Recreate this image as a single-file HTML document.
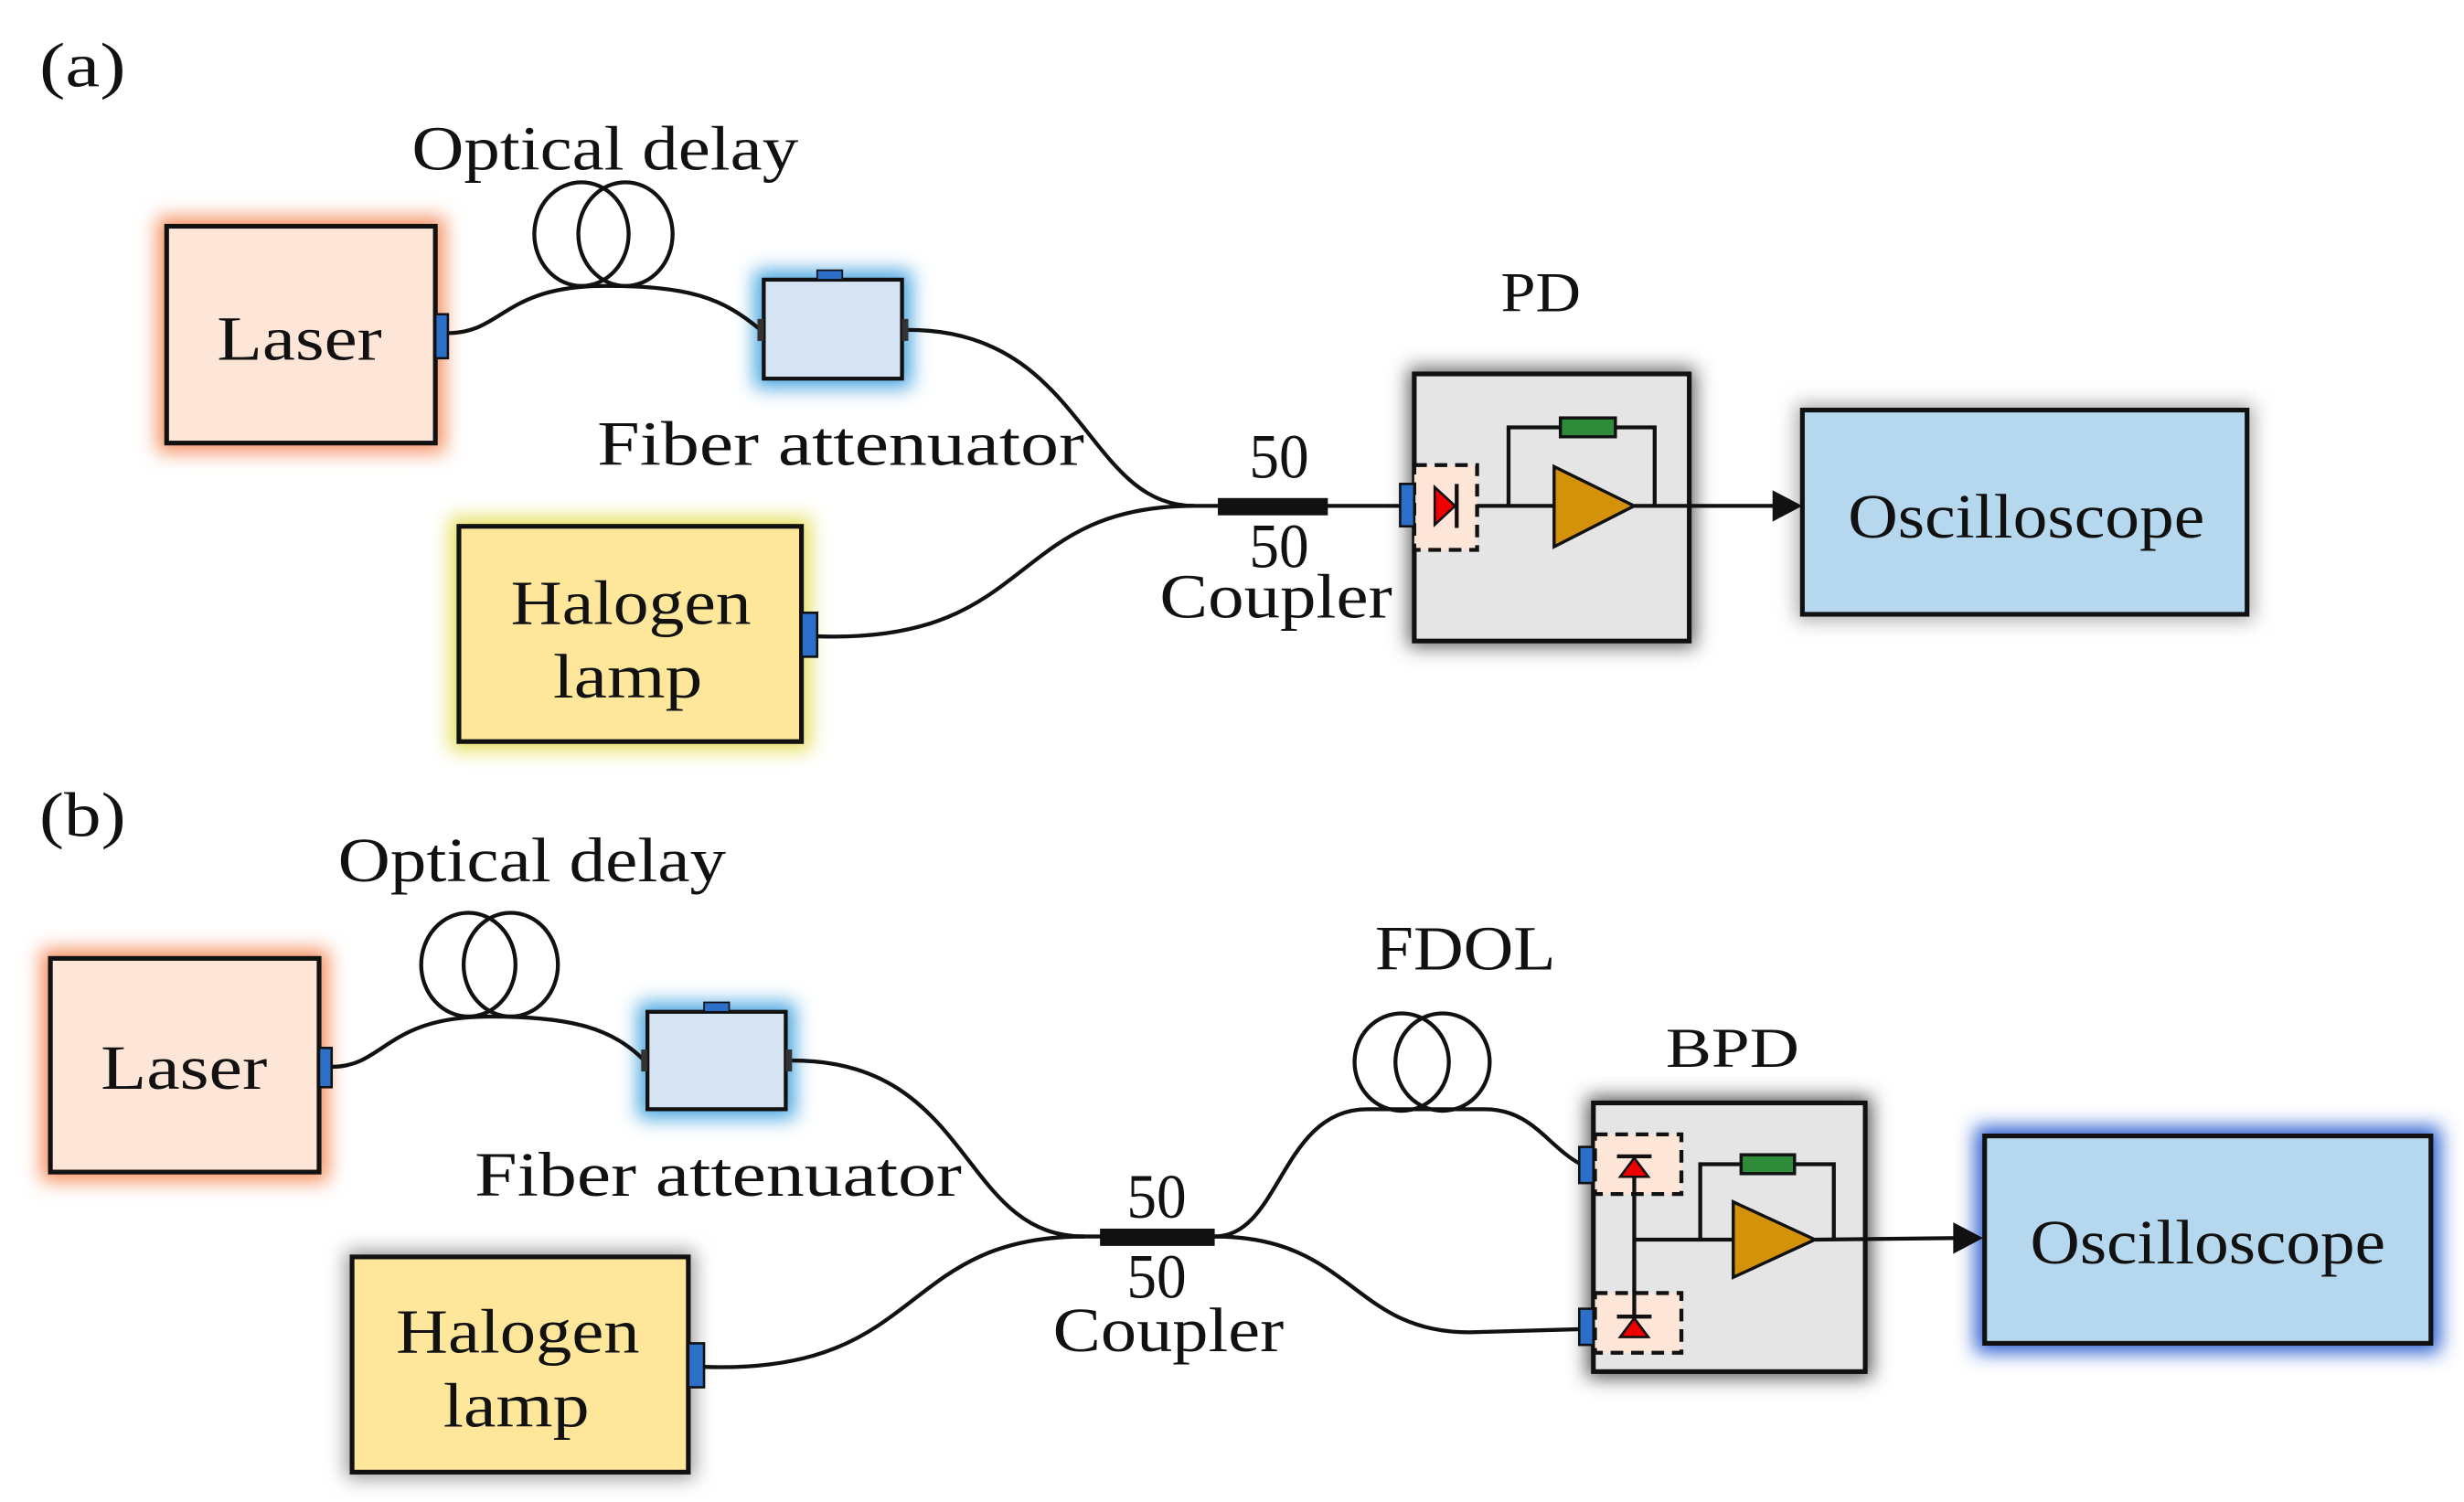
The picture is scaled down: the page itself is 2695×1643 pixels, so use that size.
<!DOCTYPE html>
<html><head><meta charset="utf-8"><style>
html,body{margin:0;padding:0;background:#fff;}
svg{display:block;}
text{font-family:"Liberation Serif",serif;fill:#111;}
</style></head><body>
<svg width="2695" height="1643" viewBox="0 0 1568 956" xmlns="http://www.w3.org/2000/svg">
<defs>
<filter id="g" x="-30%" y="-30%" width="160%" height="160%"><feGaussianBlur stdDeviation="6"/></filter>
</defs>
<g font-size="40" lengthAdjust="spacingAndGlyphs">
<!-- ===== (a) ===== -->
<text x="25" y="55" textLength="55" lengthAdjust="spacingAndGlyphs">(a)</text>
<text x="262" y="108" textLength="246" lengthAdjust="spacingAndGlyphs">Optical delay</text>
<rect x="100" y="138" width="183" height="150" fill="#f59060" filter="url(#g)"/>
<rect x="480" y="172" width="100" height="75" fill="#4aa6e0" filter="url(#g)"/>
<rect x="286" y="329" width="230" height="149" fill="#e6e060" filter="url(#g)"/>
<rect x="896" y="234" width="183" height="178" fill="#666" filter="url(#g)"/>
<rect x="1143" y="257" width="291" height="138" fill="#aaa" filter="url(#g)"/>
<rect x="106" y="144" width="171" height="138" fill="#fde5d8" stroke="#111" stroke-width="3"/>
<text x="138" y="229" textLength="105" lengthAdjust="spacingAndGlyphs">Laser</text>
<rect x="277" y="200" width="8" height="28" fill="#2b6fc8" stroke="#111" stroke-width="1.5"/>
<ellipse cx="370" cy="149" rx="30" ry="33" fill="none" stroke="#111" stroke-width="2.5"/>
<ellipse cx="398" cy="149" rx="30" ry="33" fill="none" stroke="#111" stroke-width="2.5"/>
<path d="M285,212 C320,212 320,182 385,182 C440,182 460,190 484,210" fill="none" stroke="#111" stroke-width="2.5"/>
<rect x="486" y="178" width="88" height="63" fill="#d6e3f3" stroke="#111" stroke-width="2.5"/>
<rect x="520" y="172" width="16" height="6" fill="#2b6fc8" stroke="#111" stroke-width="1"/>
<rect x="482" y="203" width="4" height="14" fill="#333"/>
<rect x="574" y="203" width="4" height="14" fill="#333"/>
<text x="380" y="296" textLength="310" lengthAdjust="spacingAndGlyphs">Fiber attenuator</text>
<path d="M578,210 C690,210 690,322 760,322" fill="none" stroke="#111" stroke-width="2.5"/>
<rect x="292" y="335" width="218" height="137" fill="#fee79a" stroke="#111" stroke-width="3"/>
<text x="325" y="397" textLength="153" lengthAdjust="spacingAndGlyphs">Halogen</text>
<text x="352" y="444" textLength="95" lengthAdjust="spacingAndGlyphs">lamp</text>
<rect x="510" y="390" width="10" height="28" fill="#2b6fc8" stroke="#111" stroke-width="1.5"/>
<path d="M520,405 C660,410 640,322 760,322" fill="none" stroke="#111" stroke-width="2.5"/>
<line x1="755" y1="322" x2="893" y2="322" stroke="#111" stroke-width="2.5"/>
<rect x="775" y="317" width="70" height="11" fill="#111"/>
<text x="795" y="304" textLength="38" lengthAdjust="spacingAndGlyphs">50</text>
<text x="795" y="361" textLength="38" lengthAdjust="spacingAndGlyphs">50</text>
<text x="738" y="393" textLength="148" lengthAdjust="spacingAndGlyphs">Coupler</text>
<text x="955" y="198" textLength="51" lengthAdjust="spacingAndGlyphs" font-size="36">PD</text>
<rect x="900" y="238" width="175" height="170" fill="#e5e5e5" stroke="#111" stroke-width="3"/>
<rect x="900" y="296" width="40" height="54" fill="#fde5d8" stroke="#111" stroke-width="2.5" stroke-dasharray="8,5"/>
<rect x="891" y="308" width="9" height="27" fill="#2b6fc8" stroke="#111" stroke-width="1.5"/>
<polygon points="913,310 926,322 913,334" fill="#e00" stroke="#111" stroke-width="1.5"/>
<line x1="927" y1="308" x2="927" y2="336" stroke="#111" stroke-width="2.5"/>
<line x1="940" y1="322" x2="989" y2="322" stroke="#111" stroke-width="2.5"/>
<polyline points="960,322 960,272 1053,272 1053,322" fill="none" stroke="#111" stroke-width="2.5"/>
<rect x="993" y="266" width="35" height="12" fill="#2e8b3a" stroke="#111" stroke-width="2"/>
<polygon points="989,297 1040,322 989,348" fill="#d4920a" stroke="#111" stroke-width="2"/>
<line x1="1040" y1="322" x2="1132" y2="322" stroke="#111" stroke-width="2.5"/>
<polygon points="1128,312 1147,322 1128,332" fill="#111"/>
<rect x="1147" y="261" width="283" height="130" fill="#b6d8ef" stroke="#111" stroke-width="3"/>
<text x="1176" y="342" textLength="227" lengthAdjust="spacingAndGlyphs">Oscilloscope</text>

<!-- ===== (b) ===== -->
<text x="25" y="532" textLength="55" lengthAdjust="spacingAndGlyphs">(b)</text>
<text x="215" y="561" textLength="247" lengthAdjust="spacingAndGlyphs">Optical delay</text>
<rect x="26" y="604" width="183" height="148" fill="#f59060" filter="url(#g)"/>
<rect x="406" y="638" width="100" height="74" fill="#4aa6e0" filter="url(#g)"/>
<rect x="220" y="796" width="222" height="145" fill="#999" filter="url(#g)"/>
<rect x="1010" y="698" width="181" height="179" fill="#555" filter="url(#g)"/>
<rect x="1257" y="717" width="296" height="144" fill="#2a5fd0" filter="url(#g)"/>
<rect x="32" y="610" width="171" height="136" fill="#fde5d8" stroke="#111" stroke-width="3"/>
<text x="64" y="693" textLength="106" lengthAdjust="spacingAndGlyphs">Laser</text>
<rect x="203" y="667" width="8" height="25" fill="#2b6fc8" stroke="#111" stroke-width="1.5"/>
<ellipse cx="298" cy="614" rx="30" ry="33" fill="none" stroke="#111" stroke-width="2.5"/>
<ellipse cx="325" cy="614" rx="30" ry="33" fill="none" stroke="#111" stroke-width="2.5"/>
<path d="M211,679 C245,679 245,647 312,647 C365,647 390,655 410,675" fill="none" stroke="#111" stroke-width="2.5"/>
<rect x="412" y="644" width="88" height="62" fill="#d6e3f3" stroke="#111" stroke-width="2.5"/>
<rect x="448" y="638" width="16" height="6" fill="#2b6fc8" stroke="#111" stroke-width="1"/>
<rect x="408" y="668" width="4" height="14" fill="#333"/>
<rect x="500" y="668" width="4" height="14" fill="#333"/>
<text x="302" y="761" textLength="310" lengthAdjust="spacingAndGlyphs">Fiber attenuator</text>
<path d="M504,675 C620,675 610,787 690,787" fill="none" stroke="#111" stroke-width="2.5"/>
<rect x="224" y="800" width="214" height="137" fill="#fee79a" stroke="#111" stroke-width="3"/>
<text x="252" y="861" textLength="155" lengthAdjust="spacingAndGlyphs">Halogen</text>
<text x="282" y="908" textLength="93" lengthAdjust="spacingAndGlyphs">lamp</text>
<rect x="438" y="855" width="10" height="28" fill="#2b6fc8" stroke="#111" stroke-width="1.5"/>
<path d="M448,870 C590,875 570,787 690,787" fill="none" stroke="#111" stroke-width="2.5"/>
<line x1="685" y1="787" x2="780" y2="787" stroke="#111" stroke-width="2.5"/>
<rect x="700" y="782" width="73" height="11" fill="#111"/>
<text x="717" y="775" textLength="38" lengthAdjust="spacingAndGlyphs">50</text>
<text x="717" y="826" textLength="38" lengthAdjust="spacingAndGlyphs">50</text>
<text x="670" y="860" textLength="147" lengthAdjust="spacingAndGlyphs">Coupler</text>
<text x="875" y="617" textLength="115" lengthAdjust="spacingAndGlyphs">FDOL</text>
<ellipse cx="892" cy="676" rx="30" ry="31" fill="none" stroke="#111" stroke-width="2.5"/>
<ellipse cx="918" cy="676" rx="30" ry="31" fill="none" stroke="#111" stroke-width="2.5"/>
<path d="M773,787 C815,787 815,706 870,706 L945,706 C975,706 985,730 1006,741" fill="none" stroke="#111" stroke-width="2.5"/>
<path d="M773,787 C860,787 860,848 935,848 L1006,846" fill="none" stroke="#111" stroke-width="2.5"/>
<text x="1060" y="679" textLength="85" lengthAdjust="spacingAndGlyphs" font-size="36">BPD</text>
<rect x="1014" y="702" width="173" height="171" fill="#e5e5e5" stroke="#111" stroke-width="3"/>
<rect x="1015" y="722" width="55" height="38" fill="#fde5d8" stroke="#111" stroke-width="2.5" stroke-dasharray="8,5"/>
<rect x="1015" y="823" width="55" height="38" fill="#fde5d8" stroke="#111" stroke-width="2.5" stroke-dasharray="8,5"/>
<rect x="1005" y="730" width="9" height="23" fill="#2b6fc8" stroke="#111" stroke-width="1.5"/>
<rect x="1005" y="833" width="9" height="23" fill="#2b6fc8" stroke="#111" stroke-width="1.5"/>
<line x1="1040" y1="735" x2="1040" y2="850" stroke="#111" stroke-width="2.5"/>
<polygon points="1031,749 1040,737 1049,749" fill="#e00" stroke="#111" stroke-width="1.5"/>
<line x1="1029" y1="736" x2="1051" y2="736" stroke="#111" stroke-width="2.5"/>
<polygon points="1031,851 1040,839 1049,851" fill="#e00" stroke="#111" stroke-width="1.5"/>
<line x1="1029" y1="838" x2="1051" y2="838" stroke="#111" stroke-width="2.5"/>
<line x1="1040" y1="789" x2="1103" y2="789" stroke="#111" stroke-width="2.5"/>
<polyline points="1082,789 1082,741 1167,741 1167,789" fill="none" stroke="#111" stroke-width="2.5"/>
<rect x="1108" y="735" width="34" height="12" fill="#2e8b3a" stroke="#111" stroke-width="2"/>
<polygon points="1103,765 1155,789 1103,813" fill="#d4920a" stroke="#111" stroke-width="2"/>
<line x1="1155" y1="789" x2="1246" y2="788" stroke="#111" stroke-width="2.5"/>
<polygon points="1243,778 1262,788 1243,798" fill="#111"/>
<rect x="1263" y="723" width="284" height="132" fill="#b6d8ef" stroke="#111" stroke-width="3"/>
<text x="1292" y="804" textLength="226" lengthAdjust="spacingAndGlyphs">Oscilloscope</text>
</g>
</svg>
</body></html>
